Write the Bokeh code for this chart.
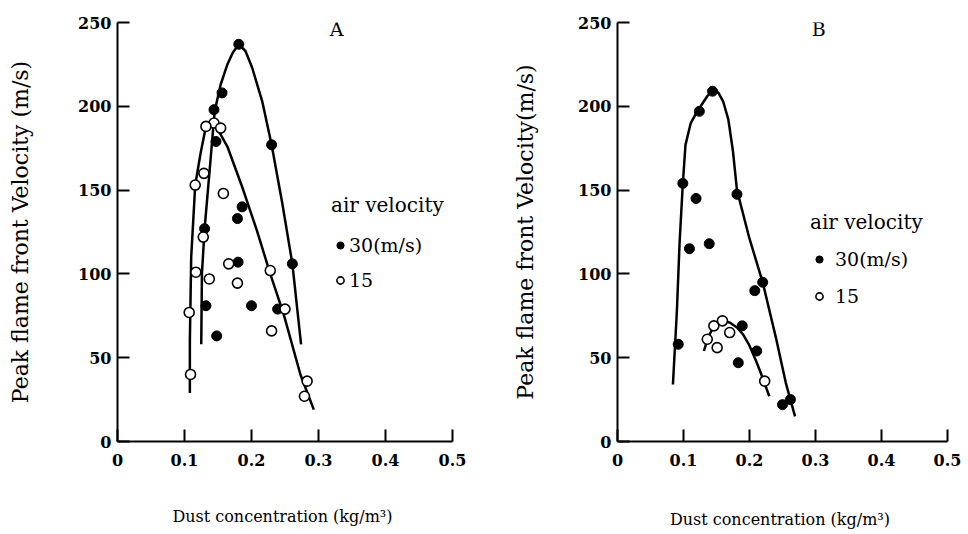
from bokeh.plotting import figure
from bokeh.models import Range1d, FixedTicker, Legend, LegendItem, Label
from bokeh.layouts import row
from bokeh.embed import file_html
from bokeh.resources import INLINE

# ---------------- data ----------------
x_ticks = [0, 0.1, 0.2, 0.3, 0.4, 0.5]
y_ticks = [0, 50, 100, 150, 200, 250]
series_names = ["30(m/s)", "15"]
legend_title = "air velocity"
x_title = "Dust concentration  (kg/m³)"

# Panel A – measured points
a30_x = [0.181, 0.156, 0.144, 0.147, 0.230, 0.186, 0.179, 0.130, 0.180, 0.261, 0.132, 0.200, 0.239, 0.148]
a30_y = [237, 208, 198, 179, 177, 140, 133, 127, 107, 106, 81, 81, 79, 63]
a15_x = [0.144, 0.132, 0.154, 0.129, 0.116, 0.158, 0.128, 0.166, 0.117, 0.228, 0.137, 0.179, 0.250, 0.107, 0.230, 0.109, 0.283, 0.279]
a15_y = [190, 188, 187, 160, 153, 148, 122, 106, 101, 102, 97, 94.5, 79, 77, 66, 40, 36, 27]
# Panel A – fitted curves (traced)
a30_cx = [0.125, 0.126, 0.130, 0.138, 0.145, 0.154, 0.164, 0.172, 0.181, 0.191, 0.201, 0.216, 0.230, 0.246, 0.261, 0.274]
a30_cy = [58, 100, 127, 164, 197, 213, 225, 232, 237, 233, 223, 203, 177, 142, 106, 58]
a15_cx = [0.108, 0.108, 0.110, 0.116, 0.124, 0.132, 0.141, 0.150, 0.164, 0.186, 0.208, 0.228, 0.248, 0.273, 0.293]
a15_cy = [29, 60, 110, 153, 172, 188, 191, 186, 176, 152, 126, 100, 76, 40, 19]

# Panel B – measured points
b30_x = [0.144, 0.124, 0.099, 0.119, 0.181, 0.109, 0.139, 0.220, 0.208, 0.092, 0.189, 0.211, 0.183, 0.250, 0.262]
b30_y = [209, 197, 154, 145, 147.5, 115, 118, 95, 90, 58, 69, 54, 47, 22, 25]
b15_x = [0.136, 0.146, 0.159, 0.170, 0.151, 0.223]
b15_y = [61, 69, 72, 65, 56, 36]
# Panel B – fitted curves (traced)
b30_cx = [0.084, 0.090, 0.094, 0.099, 0.103, 0.111, 0.118, 0.126, 0.136, 0.145, 0.153, 0.160, 0.168, 0.175, 0.181, 0.200, 0.220, 0.240, 0.255, 0.269]
b30_cy = [34, 78, 118, 154, 177, 190, 195, 200, 206, 210, 208, 203, 192, 173, 150, 121, 95, 62, 35, 15]
b15_cx = [0.131, 0.137, 0.145, 0.159, 0.170, 0.181, 0.190, 0.199, 0.210, 0.217, 0.230]
b15_cy = [54, 62, 68, 72, 71, 68, 64, 58, 48, 41, 27]

FONT = "DejaVu Serif"


def make_panel(tag, ylabel, left, right, ylab_standoff, xlab_standoff,
               p30x, p30y, p15x, p15y, c30x, c30y, c15x, c15y,
               legend_loc, lab_standoff, item_spacing, title_gap, tag_x):
    p = figure(width=484, height=534, x_range=Range1d(0, 0.5), y_range=Range1d(0, 250),
               output_backend="svg", toolbar_location=None,
               min_border_left=left, min_border_right=right,
               min_border_top=22, min_border_bottom=93)
    p.outline_line_color = None
    p.xgrid.grid_line_color = None
    p.ygrid.grid_line_color = None
    p.background_fill_color = "white"
    p.border_fill_color = "white"

    for ax in (p.xaxis[0], p.yaxis[0]):
        ax.axis_line_width = 2
        ax.axis_line_color = "black"
        ax.major_tick_line_width = 2
        ax.major_tick_in = 12
        ax.major_tick_out = 0
        ax.minor_tick_line_color = None
        ax.major_label_text_font = FONT
        ax.major_label_text_font_size = "16px"
        ax.major_label_text_font_style = "bold"
        ax.major_label_text_color = "black"
        ax.axis_label_text_font = FONT
        ax.axis_label_text_font_style = "normal"
        ax.axis_label_text_color = "black"
    p.xaxis.ticker = FixedTicker(ticks=x_ticks)
    p.yaxis.ticker = FixedTicker(ticks=y_ticks)
    p.xaxis.major_label_overrides = {0: "0", 0.1: "0.1", 0.2: "0.2", 0.3: "0.3", 0.4: "0.4", 0.5: "0.5"}
    p.xaxis.major_label_standoff = 12
    p.yaxis.major_label_standoff = 6

    p.yaxis.axis_label = ylabel
    p.yaxis.axis_label_text_font_size = "22px"
    p.yaxis.axis_label_standoff = ylab_standoff

    p.xaxis.axis_label = x_title
    p.xaxis.axis_label_text_font_size = "16px"
    p.xaxis.axis_label_standoff = xlab_standoff

    p.line(c30x, c30y, line_color="black", line_width=2.5)
    p.line(c15x, c15y, line_color="black", line_width=2.5)
    r30 = p.scatter(p30x, p30y, size=10, fill_color="black", line_color="black")
    r15 = p.scatter(p15x, p15y, size=10, fill_color="white", line_color="black", line_width=1.6)

    legend = Legend(items=[LegendItem(label=series_names[0], renderers=[r30]),
                           LegendItem(label=series_names[1], renderers=[r15])],
                    title=legend_title, location=legend_loc,
                    title_text_font=FONT, title_text_font_size="20px", title_text_font_style="normal",
                    title_text_color="black",
                    label_text_font=FONT, label_text_font_size="19px", label_text_color="black",
                    glyph_width=18, glyph_height=18, label_standoff=lab_standoff,
                    spacing=item_spacing, padding=0, margin=0, title_standoff=title_gap,
                    border_line_color=None, background_fill_alpha=0)
    p.add_layout(legend, "center")

    p.add_layout(Label(x=tag_x, y=246, text=tag, text_font=FONT, text_font_size="19px",
                       text_color="black", text_baseline="middle", text_align="center"))
    return p


pa = make_panel("A", "Peak flame front Velocity (m/s)", 117, 32, 42, 38,
                a30_x, a30_y, a15_x, a15_y, a30_cx, a30_cy, a15_cx, a15_cy,
                (214, 150), -4, 13, 17, 0.327)
pb = make_panel("B", "Peak flame front Velocity(m/s)", 133, 21, 37, 41,
                b30_x, b30_y, b15_x, b15_y, b30_cx, b30_cy, b15_cx, b15_cy,
                (193, 134), 7, 15, 14, 0.305)

layout = row(pa, pb)
open("out.html", "w").write(file_html(layout, INLINE))
